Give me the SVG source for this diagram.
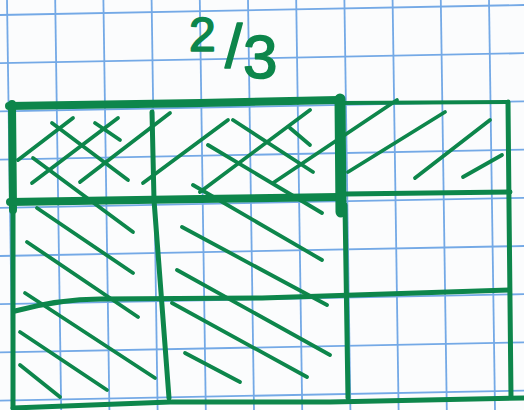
<svg xmlns="http://www.w3.org/2000/svg" width="524" height="410" viewBox="0 0 524 410">
<style>
.grid line{stroke:#74a9e6;stroke-width:1.8}
.ink{fill:none;stroke:#0d864b;stroke-linecap:round;stroke-linejoin:round}
.edge{stroke-width:5}
.thick{stroke-width:8}
.hatch line{stroke:#0d864b;stroke-width:3.8;stroke-linecap:round}
.label{fill:#0d864b;stroke:#0d864b;stroke-width:1.6;stroke-linejoin:round;font-family:"Liberation Sans",Arial,sans-serif}
</style>
<rect width="524" height="410" fill="#fbfcfd"/>
<g class="grid">
<line x1="0" y1="15" x2="524" y2="5"/>
<line x1="0" y1="63.2" x2="524" y2="53.2"/>
<line x1="0" y1="111.4" x2="524" y2="101.4"/>
<line x1="0" y1="159.6" x2="524" y2="149.6"/>
<line x1="0" y1="207.8" x2="524" y2="197.8"/>
<line x1="0" y1="256" x2="524" y2="246"/>
<line x1="0" y1="304.2" x2="524" y2="294.2"/>
<line x1="0" y1="352.4" x2="524" y2="342.4"/>
<line x1="0" y1="400.6" x2="524" y2="390.6"/>
<line x1="7" y1="0" x2="13" y2="410"/>
<line x1="55.2" y1="0" x2="61.2" y2="410"/>
<line x1="103.4" y1="0" x2="109.4" y2="410"/>
<line x1="151.6" y1="0" x2="157.6" y2="410"/>
<line x1="199.8" y1="0" x2="205.8" y2="410"/>
<line x1="248" y1="0" x2="254" y2="410"/>
<line x1="296.2" y1="0" x2="302.2" y2="410"/>
<line x1="344.4" y1="0" x2="350.4" y2="410"/>
<line x1="392.6" y1="0" x2="398.6" y2="410"/>
<line x1="440.8" y1="0" x2="446.8" y2="410"/>
<line x1="489" y1="0" x2="495" y2="410"/>
</g>
<g id="hatching" class="hatch">
<line x1="18" y1="160" x2="73" y2="118"/>
<line x1="32" y1="183" x2="118" y2="118"/>
<line x1="80" y1="182" x2="170" y2="113"/>
<line x1="143" y1="183" x2="228" y2="120"/>
<line x1="200" y1="192" x2="310" y2="110"/>
<line x1="273" y1="183" x2="397" y2="100"/>
<line x1="348" y1="172" x2="445" y2="112"/>
<line x1="415" y1="178" x2="490" y2="120"/>
<line x1="463" y1="177" x2="502" y2="155"/>
<line x1="52" y1="123" x2="128" y2="180"/>
<line x1="95" y1="123" x2="120" y2="140"/>
<line x1="33" y1="158" x2="133" y2="232"/>
<line x1="233" y1="120" x2="313" y2="172"/>
<line x1="208" y1="145" x2="322" y2="213"/>
<line x1="290" y1="128" x2="310" y2="145"/>
<line x1="193" y1="185" x2="322" y2="260"/>
<line x1="37" y1="208" x2="133" y2="273"/>
<line x1="27" y1="242" x2="138" y2="317"/>
<line x1="25" y1="293" x2="155" y2="378"/>
<line x1="20" y1="332" x2="107" y2="390"/>
<line x1="20" y1="365" x2="60" y2="397"/>
<line x1="182" y1="227" x2="327" y2="305"/>
<line x1="177" y1="270" x2="330" y2="355"/>
<line x1="172" y1="303" x2="307" y2="377"/>
<line x1="185" y1="353" x2="240" y2="382"/>
</g>
<g id="grid-outline">
<path class="ink edge" d="M13 205 L13 408"/>
<path class="ink edge" d="M152 112 L154 200 L169 398"/>
<path class="ink edge" d="M345 205 L348 398"/>
<path class="ink" stroke-width="4" d="M340 103 L508 102"/>
<path class="ink edge" d="M508 102 L509 205 L511 397"/>
<path class="ink edge" d="M345 194 L510 192"/>
<path class="ink edge" d="M15 311 Q60 299 100 299 L262 298 L509 290"/>
<path class="ink edge" d="M13 408 L170 402 L330 402 L524 398"/>
</g>
<g id="highlight-box">
<path class="ink thick" d="M9 106 L200 103 L338 100"/>
<path class="ink thick" d="M12 104 L13 210"/>
<path class="ink thick" d="M10 202 L200 199 L338 197"/>
<path class="ink" stroke-width="11" d="M340 99 L341 212"/>
</g>
<g id="fraction-label">
<text class="label"><tspan x="189" y="51" font-size="48">2</tspan><tspan x="225" y="67" font-size="62">/</tspan><tspan x="243" y="78" font-size="62">3</tspan></text>
</g>
</svg>
